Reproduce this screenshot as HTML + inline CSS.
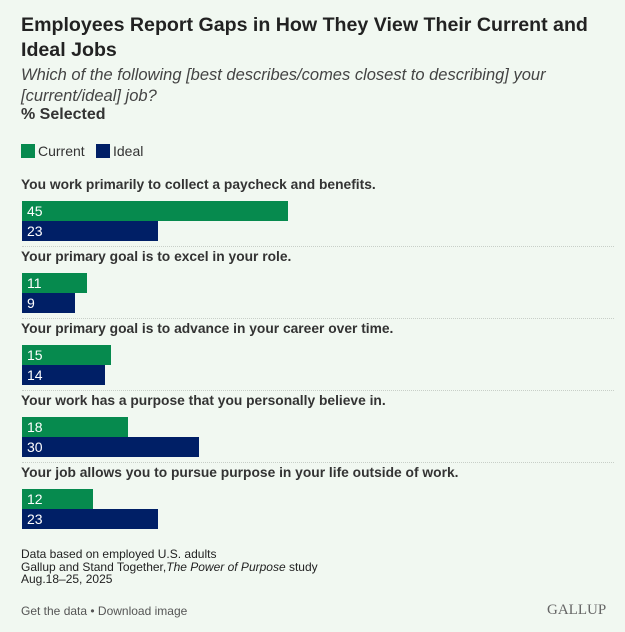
<!DOCTYPE html>
<html><head><meta charset="utf-8">
<style>
body{margin:0;background:#fff;}
#wrap{position:relative;width:625px;height:632px;background:#f1f8f1;font-family:"Liberation Sans",sans-serif;color:#222;overflow:hidden;}
.abs{position:absolute;}
h1{position:absolute;left:21px;top:13px;margin:0;font-size:19.6px;line-height:25px;font-weight:bold;color:#222;width:590px;}
</style></head><body>
<div id="wrap">
<h1>Employees Report Gaps in How They View Their Current and Ideal Jobs</h1>
<div class="abs" style="left:21px;top:65px;font-size:16.5px;line-height:21px;font-style:italic;color:#444;width:560px;">Which of the following [best describes/comes closest to describing] your [current/ideal] job?</div>
<div class="abs" style="left:21px;top:106px;font-size:16px;font-weight:bold;color:#333;">% Selected</div>
<div class="abs" style="left:21px;top:143px;font-size:14px;color:#333;"><span style="display:inline-block;width:14px;height:14px;background:#068a4e;vertical-align:-2px;margin-right:3px"></span>Current</div>
<div class="abs" style="left:96px;top:143px;font-size:14px;color:#333;"><span style="display:inline-block;width:14px;height:14px;background:#001f66;vertical-align:-2px;margin-right:3px"></span>Ideal</div>
<div id="plot" class="abs" style="left:0;top:0;width:625px;height:540px;"></div>
<div class="abs" style="left:21px;top:548px;font-size:12px;line-height:12.5px;color:#222;">Data based on employed U.S. adults<br>Gallup and Stand Together,<i>The Power of Purpose</i> study<br>Aug.18–25, 2025</div>
<div class="abs" style="left:21px;top:604px;font-size:12px;color:#555;">Get the data • Download image</div>
<div class="abs" style="left:547px;top:602px;font-family:'Liberation Serif',serif;font-size:15px;color:#666;">GALLUP</div>
</div>
<script>
const categories=["You work primarily to collect a paycheck and benefits.","Your primary goal is to excel in your role.","Your primary goal is to advance in your career over time.","Your work has a purpose that you personally believe in.","Your job allows you to pursue purpose in your life outside of work."];
const currentValues=[45,11,15,18,12];
const idealValues=[23,9,14,30,23];
const plot=document.getElementById('plot');
const x0=22, pxPerUnit=266/45;
const xScale=v=>v*pxPerUnit;
const yGroup=i=>177+72*i;
function bar(v,y,color,name){
  const d=document.createElement('div');
  
  
  d.style.cssText=`position:absolute;left:${x0}px;top:${y}px;width:${xScale(v)}px;height:20px;background:${color};color:#fff;font-size:14px;line-height:20px;text-indent:5px;box-sizing:border-box;`;
  d.textContent=v;
  plot.appendChild(d);
}
categories.forEach((c,i)=>{
  const g=yGroup(i);
  const l=document.createElement('div');
  
  
  l.style.cssText=`position:absolute;left:21px;top:${g}px;font-size:13.8px;font-weight:bold;color:#333;white-space:nowrap;`;
  l.textContent=c;
  plot.appendChild(l);
  bar(currentValues[i],g+24,'#068a4e','bar-current');
  bar(idealValues[i],g+44,'#001f66','bar-ideal');
  if(i<categories.length-1){
    const s=document.createElement('div');
    
    
    s.style.cssText=`position:absolute;left:22px;top:${g+69}px;width:592px;border-top:1px dotted #c8cfc8;`;
    plot.appendChild(s);
  }
});
</script>
</body></html>
